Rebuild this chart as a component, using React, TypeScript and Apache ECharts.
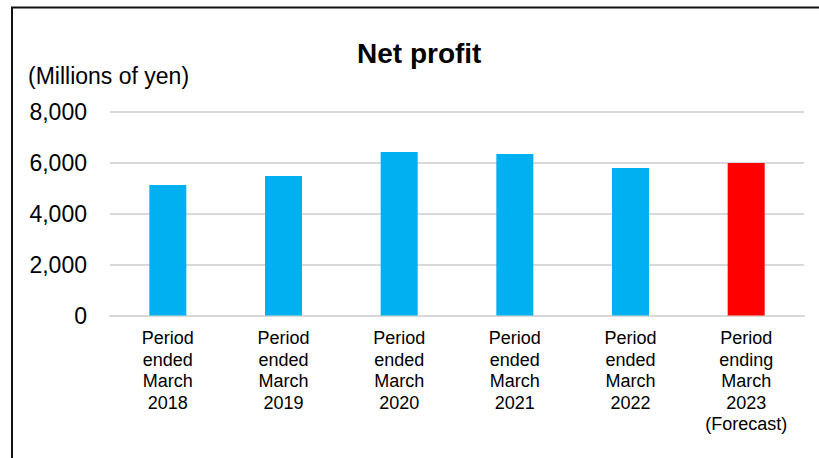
import React, { useEffect, useRef } from "react";
import * as echarts from "echarts";

const categories = [
  "Period\nended\nMarch\n2018",
  "Period\nended\nMarch\n2019",
  "Period\nended\nMarch\n2020",
  "Period\nended\nMarch\n2021",
  "Period\nended\nMarch\n2022",
  "Period\nending\nMarch\n2023\n(Forecast)",
];
const netProfit = [5130, 5480, 6430, 6350, 5800, 6000];
const isForecast = [false, false, false, false, false, true];
const chartTitle = "Net profit";
const unitLabel = "(Millions of yen)";

const FONT = "'Liberation Sans', Arial, sans-serif";

export default function App() {
  const ref = useRef<HTMLDivElement>(null);
  useEffect(() => {
    if (!ref.current) return;
    const chart = echarts.init(ref.current, undefined, { renderer: "svg" });
    chart.setOption({
      animation: false,
      backgroundColor: "#ffffff",
      textStyle: { fontFamily: FONT },
      grid: { left: 110, right: 15, top: 112, bottom: 142.5, containLabel: false },
      xAxis: {
        type: "category",
        data: categories,
        axisLine: { show: true, lineStyle: { color: "#d9d9d9", width: 2 } },
        axisTick: { show: false },
        axisLabel: {
          interval: 0,
          fontSize: 18,
          lineHeight: 21.5,
          color: "#000",
          margin: 12,
          fontFamily: FONT,
        },
      },
      yAxis: {
        type: "value",
        min: 0,
        max: 8000,
        interval: 2000,
        axisLine: { show: false },
        axisTick: { show: false },
        splitLine: { lineStyle: { color: "#d9d9d9", width: 2 } },
        axisLabel: {
          fontSize: 23,
          color: "#000",
          margin: 23,
          fontFamily: FONT,
          formatter: (v: number) => v.toLocaleString("en-US"),
        },
      },
      series: [
        {
          type: "bar",
          barWidth: 37,
          data: netProfit.map((v, i) => ({
            value: v,
            itemStyle: { color: isForecast[i] ? "#ff0000" : "#00b0f0" },
          })),
        },
      ],
      graphic: [
        {
          type: "rect",
          shape: { x: 12, y: 7.5, width: 900, height: 600 },
          style: { fill: "none", stroke: "#111", lineWidth: 2 },
          silent: true,
        },
        {
          type: "text",
          x: 357,
          y: 53,
          style: {
            text: chartTitle,
            fontSize: 28,
            fontWeight: "bold",
            fontFamily: FONT,
            fill: "#000",
            align: "left",
            verticalAlign: "middle",
          },
        },
        {
          type: "text",
          x: 28,
          y: 76,
          style: {
            text: unitLabel,
            fontSize: 23,
            fontFamily: FONT,
            fill: "#000",
            align: "left",
            verticalAlign: "middle",
          },
        },
      ],
    });
    return () => chart.dispose();
  }, []);
  return (
    <div
      ref={ref}
      style={{ position: "absolute", left: 0, top: 0, width: 819, height: 458 }}
    />
  );
}
